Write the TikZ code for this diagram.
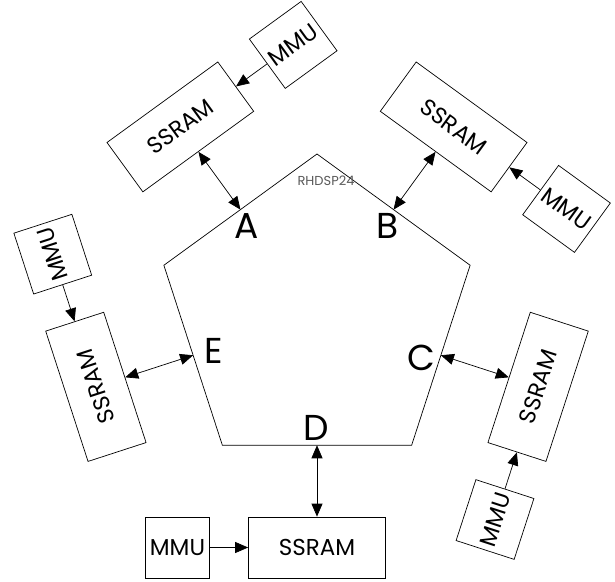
\documentclass[tikz,border=0pt]{standalone}
\usepackage{fontspec}
\setmainfont{Poppins}
\usetikzlibrary{arrows.meta}
\begin{document}
\begin{tikzpicture}[x=1pt,y=1pt,
  line width=0.7pt,
  box/.style={draw, inner sep=0pt, minimum height=61pt, transform shape,
    font=\fontsize{23}{23}\selectfont},
  ssram/.style={box, minimum width=137pt},
  mmu/.style={box, minimum width=64pt},
  tip/.tip={Triangle[length=13pt,width=11pt]},
  link/.style={tip-tip},
  feed/.style={-tip},
  port/.style={font=\fontsize{36}{36}\selectfont, inner sep=0pt},
]
\useasboundingbox (-317,-266) rectangle (298,315);

% processor outline: regular pentagon around the origin
\foreach \k in {0,...,4} \coordinate (v\k) at (90+72*\k:161);
\draw (v0) -- (v1) -- (v2) -- (v3) -- (v4) -- cycle;

% one SSRAM + MMU pair outside each side
\foreach \n/\ang/\flip in {D/0/0, C/72/0, B/144/180, A/216/180, E/288/180} {
  \begin{scope}[rotate=\ang]
    \coordinate (p\n) at (0,-130.25);
    \node[ssram, rotate=\flip] (s\n) at (0,-232.5) {SSRAM};
    \node[mmu, rotate=\flip] (m\n) at (-139.5,-232.5) {MMU};
  \end{scope}
  \draw[link] (p\n) -- (s\n);
  \draw[feed] (m\n) -- (s\n);
}

% port letters
\node[port] (la) at (-70.3,89) {A};
\node[port] (lb) at (71,89) {B};
\node[port] (lc) at (104.7,-42.5) {C};
\node[port] (ld) at (-1,-112.5) {D};
\node[port] (le) at (-103.5,-36) {E};

\node[font=\fontsize{13}{13}\selectfont, text=black!65, inner sep=0pt] (chip) at (9,134) {RHDSP24};
\end{tikzpicture}
\end{document}
